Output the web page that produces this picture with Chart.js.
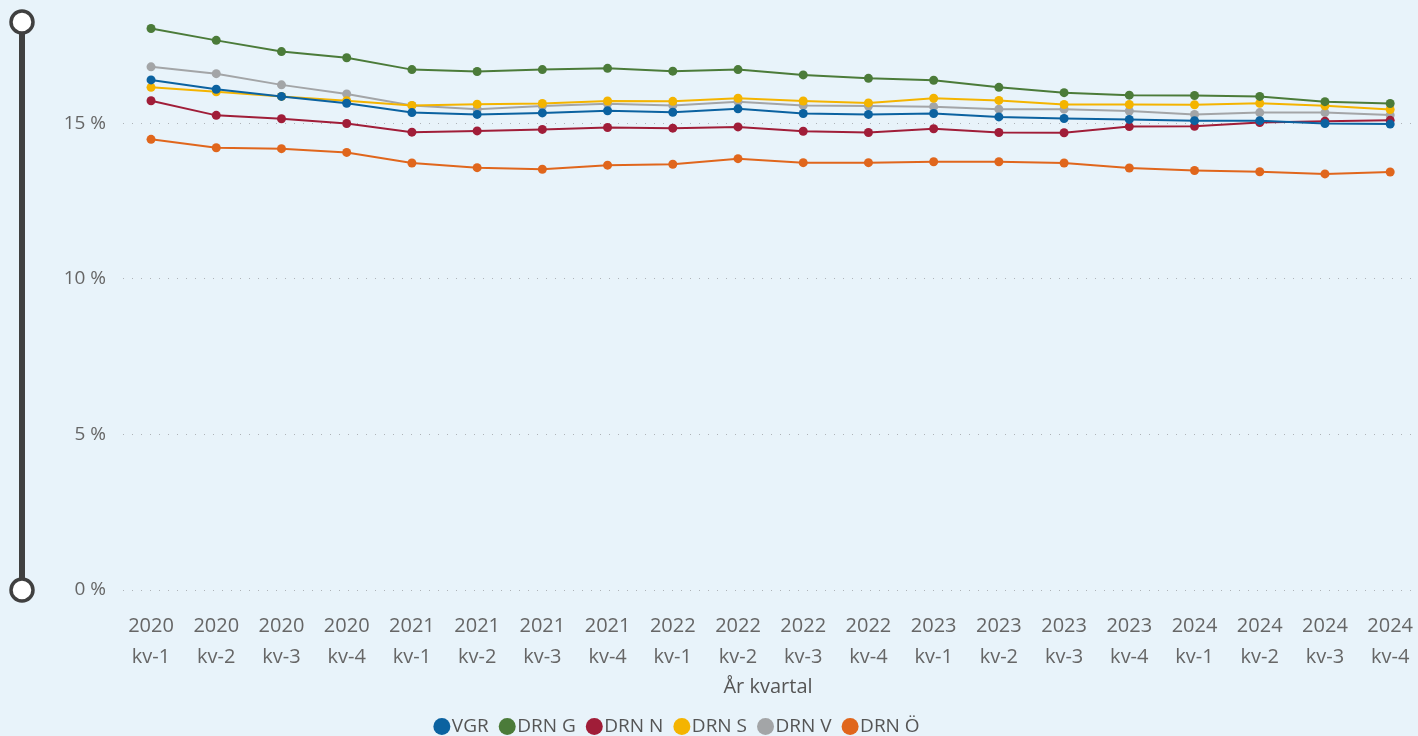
<!DOCTYPE html>
<html>
<head>
<meta charset="utf-8">
<script src="https://cdn.jsdelivr.net/npm/chart.js@4.4.1/dist/chart.umd.min.js"></script>
<style>
  html, body { margin: 0; padding: 0; background: #e8f3fa; }
  #wrap { width: 1418px; height: 736px; }
</style>
</head>
<body>
<div id="wrap"><canvas id="kv_chart" width="1418" height="736"></canvas></div>
<script>
var categories = [
  "2020 kv-1", "2020 kv-2", "2020 kv-3", "2020 kv-4",
  "2021 kv-1", "2021 kv-2", "2021 kv-3", "2021 kv-4",
  "2022 kv-1", "2022 kv-2", "2022 kv-3", "2022 kv-4",
  "2023 kv-1", "2023 kv-2", "2023 kv-3", "2023 kv-4",
  "2024 kv-1", "2024 kv-2", "2024 kv-3", "2024 kv-4"
];
var yTicks = [0, 5, 10, 15];

var vgr  = [16.39, 16.09, 15.86, 15.64, 15.34, 15.28, 15.33, 15.40, 15.35, 15.46, 15.31, 15.28, 15.31, 15.20, 15.15, 15.12, 15.08, 15.08, 14.99, 14.97];
var drnG = [18.04, 17.66, 17.30, 17.10, 16.72, 16.66, 16.72, 16.76, 16.67, 16.72, 16.55, 16.44, 16.38, 16.15, 15.98, 15.90, 15.89, 15.86, 15.69, 15.63];
var drnN = [15.72, 15.25, 15.14, 14.99, 14.71, 14.75, 14.80, 14.86, 14.84, 14.88, 14.74, 14.70, 14.82, 14.70, 14.69, 14.89, 14.90, 15.02, 15.06, 15.09];
var drnS = [16.15, 16.01, 15.86, 15.72, 15.57, 15.61, 15.63, 15.71, 15.70, 15.80, 15.71, 15.65, 15.80, 15.73, 15.60, 15.60, 15.59, 15.64, 15.56, 15.44];
var drnV = [16.81, 16.59, 16.23, 15.94, 15.57, 15.45, 15.55, 15.62, 15.57, 15.69, 15.57, 15.55, 15.53, 15.45, 15.45, 15.39, 15.28, 15.34, 15.34, 15.26];
var drnO = [14.48, 14.21, 14.18, 14.06, 13.72, 13.57, 13.52, 13.65, 13.68, 13.86, 13.73, 13.73, 13.76, 13.76, 13.72, 13.56, 13.48, 13.44, 13.37, 13.43];

function pts(arr) {
  return arr.map(function (v, i) { return { x: i, y: v }; });
}

function series(label, arr, color) {
  return {
    label: label,
    data: pts(arr),
    borderColor: color,
    backgroundColor: color,
    borderWidth: 2,
    pointRadius: 4.5,
    pointHoverRadius: 5,
    pointBorderWidth: 0,
    tension: 0
  };
}

// zoom slider on the left edge, like the report visual
var sliderPlugin = {
  id: 'slider',
  afterLayout: function (chart) {
    // legend sits a bit left of centre in the original
    chart.legend.left -= 27;
    chart.legend.right -= 27;
  },
  afterDraw: function (chart) {
    var c = chart.ctx;
    var top = chart.chartArea.top;
    var bot = chart.scales.y.getPixelForValue(0);
    var x = 22;
    c.save();
    c.fillStyle = '#404040';
    c.fillRect(x - 3, top, 6, bot - top);
    [top, bot].forEach(function (y) {
      c.beginPath();
      c.arc(x, y, 11, 0, Math.PI * 2);
      c.fillStyle = '#ffffff';
      c.fill();
      c.lineWidth = 3.5;
      c.strokeStyle = '#404040';
      c.stroke();
    });
    c.restore();
  }
};

var ctx = document.getElementById("kv_chart").getContext('2d');
var kv_chart = new Chart(ctx, {
  type: 'line',
  data: {
    datasets: [
      series("VGR", vgr, "#0b62a0"),
      series("DRN G", drnG, "#4b7b39"),
      series("DRN N", drnN, "#a01d38"),
      series("DRN S", drnS, "#f4b400"),
      series("DRN V", drnV, "#a3a5a7"),
      series("DRN Ö", drnO, "#e0661c")
    ]
  },
  options: {
    responsive: false,
    animation: false,
    layout: { padding: { left: 0, right: 3, top: 22, bottom: -10 } },
    font: { family: "'Open Sans', 'Noto Sans', sans-serif" },
    scales: {
      x: {
        type: 'linear',
        min: -0.43,
        max: 19.35,
        grid: { display: false },
        border: { display: false },
        afterBuildTicks: function (axis) {
          axis.ticks = categories.map(function (c, i) { return { value: i }; });
        },
        afterFit: function (scale) {
          scale.paddingLeft = 0;
          scale.paddingRight = 0;
        },
        ticks: {
          autoSkip: false,
          maxRotation: 0,
          padding: 13,
          color: '#666666',
          font: { family: "'Open Sans', sans-serif", size: 20, lineHeight: 1.55 },
          callback: function (v) { return categories[v].split(' '); }
        },
        title: {
          display: true,
          text: 'År kvartal',
          color: '#555555',
          padding: { top: -11, bottom: 0 },
          font: { family: "'Open Sans', sans-serif", size: 20 }
        }
      },
      y: {
        min: 0,
        max: 18.25,
        afterFit: function (scale) {
          scale.width = 123;
          scale.paddingTop = 0;
          scale.paddingBottom = 0;
        },
        afterBuildTicks: function (axis) {
          axis.ticks = yTicks.map(function (v) { return { value: v }; });
        },
        grid: {
          color: '#aeb3b8',
          lineWidth: 1,
          drawTicks: false
        },
        border: { display: false, dash: [1, 8] },
        ticks: {
          padding: 17,
          color: '#666666',
          font: { family: "'Open Sans', sans-serif", size: 19 },
          callback: function (v) { return v + ' %'; }
        }
      }
    },
    plugins: {
      legend: {
        position: 'bottom',
        labels: {
          usePointStyle: true,
          pointStyle: 'circle',
          boxWidth: 1,
          boxHeight: 12,
          padding: 18,
          color: '#555555',
          font: { family: "'Open Sans', sans-serif", size: 19 }
        }
      },
      tooltip: { enabled: false }
    }
  },
  plugins: [sliderPlugin]
});
</script>
</body>
</html>
